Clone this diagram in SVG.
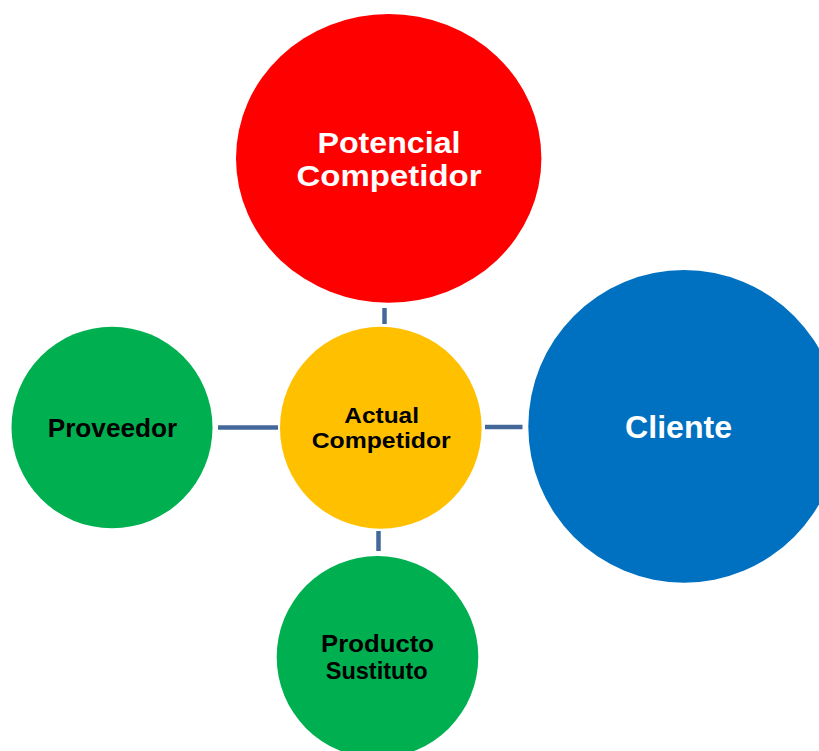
<svg xmlns="http://www.w3.org/2000/svg" width="819" height="751" viewBox="0 0 819 751">
  <style>
    .lbl { font-family: "Liberation Sans", Arial, sans-serif; font-weight: 700; text-anchor: middle; }
    .light { fill: #FFFFFF; }
    .dark { fill: #000000; }
    .link { stroke: #44689A; stroke-width: 4.5; fill: none; }
  </style>
  <rect width="819" height="751" fill="#FFFFFF"/>

  <!-- connectors between the centre and each outer circle -->
  <g id="connectors">
    <line class="link" x1="384.5" y1="308" x2="384.5" y2="324"/>
    <line class="link" x1="218" y1="427.5" x2="278" y2="427.5"/>
    <line class="link" x1="485" y1="427" x2="522.5" y2="427"/>
    <line class="link" x1="378.5" y1="531" x2="378.5" y2="551"/>
  </g>

  <g id="potencial-competidor">
    <ellipse cx="388.7" cy="158.3" rx="152.7" ry="144.4" fill="#FF0000"/>
    <text class="lbl light" x="389" y="152.7" font-size="29.5" textLength="143" lengthAdjust="spacingAndGlyphs">Potencial</text>
    <text class="lbl light" x="389" y="185.7" font-size="29.5" textLength="185" lengthAdjust="spacingAndGlyphs">Competidor</text>
  </g>

  <g id="actual-competidor">
    <ellipse cx="380.8" cy="427.8" rx="100.8" ry="101" fill="#FFC000"/>
    <text class="lbl dark" x="381.6" y="423.3" font-size="22.3" textLength="74.7" lengthAdjust="spacingAndGlyphs">Actual</text>
    <text class="lbl dark" x="381.2" y="448.3" font-size="22.3" textLength="139" lengthAdjust="spacingAndGlyphs">Competidor</text>
  </g>

  <g id="proveedor">
    <ellipse cx="112" cy="427.5" rx="100.5" ry="100.8" fill="#00B050"/>
    <text class="lbl dark" x="112.5" y="436.7" font-size="26" textLength="129.6" lengthAdjust="spacingAndGlyphs">Proveedor</text>
  </g>

  <g id="cliente">
    <ellipse cx="684" cy="426.4" rx="155.7" ry="156.3" fill="#0070C0"/>
    <text class="lbl light" x="678.6" y="437.7" font-size="32" textLength="107" lengthAdjust="spacingAndGlyphs">Cliente</text>
  </g>

  <g id="producto-sustituto">
    <ellipse cx="377.5" cy="657" rx="100.8" ry="101" fill="#00B050"/>
    <text class="lbl dark" x="377.5" y="652.3" font-size="23.8" textLength="113" lengthAdjust="spacingAndGlyphs">Producto</text>
    <text class="lbl dark" x="376.7" y="679" font-size="23.8" textLength="102" lengthAdjust="spacingAndGlyphs">Sustituto</text>
  </g>
</svg>
